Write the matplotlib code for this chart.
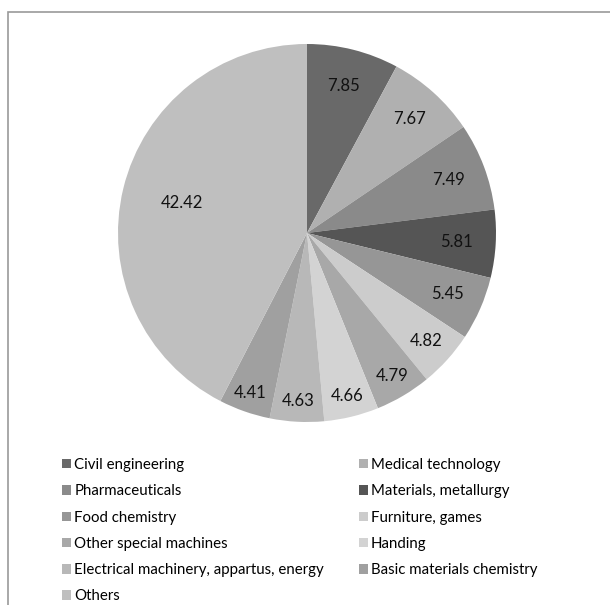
import matplotlib
matplotlib.use("Agg")
import matplotlib.pyplot as plt
from matplotlib.patches import Rectangle, Patch
import numpy as np

# Data (clockwise from 12 o'clock)
categories = ["Civil engineering", "Medical technology", "Pharmaceuticals",
              "Materials, metallurgy", "Food chemistry", "Furniture, games",
              "Other special machines", "Handing",
              "Electrical machinery, appartus, energy",
              "Basic materials chemistry", "Others"]
values = [7.85, 7.67, 7.49, 5.81, 5.45, 4.82, 4.79, 4.66, 4.63, 4.41, 42.42]
colors = ["#696969", "#b0b0b0", "#8a8a8a", "#555555", "#969696", "#cccccc",
          "#a8a8a8", "#d3d3d3", "#b8b8b8", "#a0a0a0", "#bfbfbf"]
label_dist = [0.80, 0.81, 0.80, 0.79, 0.81, 0.85, 0.88, 0.89, 0.89, 0.90, 0.68]

plt.rcParams['font.family'] = ['Lato', 'DejaVu Sans']

W, H = 610, 605
fig = plt.figure(figsize=(W / 100, H / 100), dpi=100)

# outer frame
fig.patches.append(Rectangle((8 / W, -0.01), 1.0, 1 - 12 / H + 0.01,
                             transform=fig.transFigure, fill=False,
                             edgecolor="#9a9a9a", linewidth=1.2))

cx, cy, r = 307, 233, 189
ax = fig.add_axes([(cx - r) / W, 1 - (cy + r) / H, 2 * r / W, 2 * r / H])
wedges, _ = ax.pie(values, colors=colors, startangle=90, counterclock=False,
                   radius=1.0, wedgeprops=dict(linewidth=0))
ax.set_xlim(-1, 1)
ax.set_ylim(-1, 1)
ax.set_aspect("equal")
ax.axis("off")

for w, v, d in zip(wedges, values, label_dist):
    ang = np.deg2rad((w.theta1 + w.theta2) / 2)
    ax.text(d * np.cos(ang), d * np.sin(ang), f"{v:.2f}", ha="center",
            va="center", fontsize=12, color="#111111")

# legend, filled row by row in two columns
handles = [Patch(facecolor=c, edgecolor="none") for c in colors]
order = [0, 2, 4, 6, 8, 10, 1, 3, 5, 7, 9]
fig.legend([handles[i] for i in order], [categories[i] for i in order],
           ncol=2, loc="upper left", bbox_to_anchor=(62 / W, 1 - 458 / H),
           frameon=False, fontsize=10.8, handlelength=0.6, handleheight=0.6,
           handletextpad=0.22, columnspacing=2.3, labelspacing=0.82,
           borderpad=0, borderaxespad=0)

fig.savefig("out.png", dpi=100)
